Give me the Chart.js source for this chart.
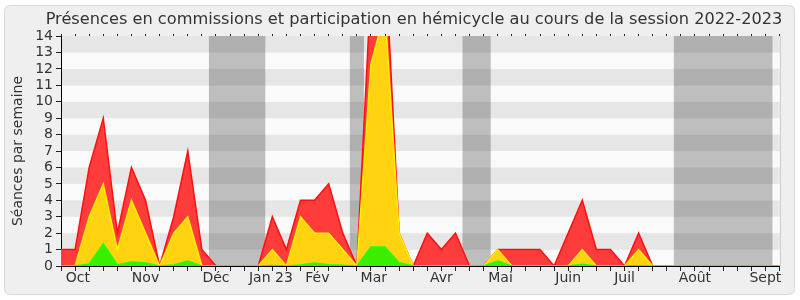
<!DOCTYPE html>
<html><head><meta charset="utf-8">
<script src="https://cdn.jsdelivr.net/npm/chart.js@4/dist/chart.umd.min.js"></script>
<style>html,body{margin:0;padding:0;background:#fff}#wrap{width:800px;height:300px;position:relative}canvas{display:block}</style>
</head><body><div id="wrap"><canvas id="c" width="800" height="300" style="width:800px;height:300px"></canvas></div>
<script>
// weekly positions of the session (week index)
const weeks = [0,1,2,3,4,5,6,7,8,9,10,11,12,13,14,15,16,17,18,19,20,21,22,23,24,25,26,27,28,29,30,31,32,33,34,35,36,37,38,39,40,41,42,43,44,45,46,47,48,49,50,51];
// red: participation en hémicycle (total)
const redValues = [1,1,6,9,2,6,4,0,3,7, 1,0,0,0,0,3,1,4,4,5, 2,0,17,19,2,0,2,1,2,0, 0,1,1,1,1,0,2,4,1,1, 0,2,0,0,0,0,0,0,0,0,0,0];
// yellow
const yellowValues = [0,0,3,5,1,4,2,0,2,3, 0,0,0,0,0,1,0,3,2,2, 1,0,12.3,15.5,2,0,0,0,0,0, 0,1,0,0,0,0,0,1,0,0, 0,1,0,0,0,0,0,0,0,0,0,0];
// green
const greenValues = [0,0,0.12,1.35,0.08,0.25,0.18,0,0.06,0.3, 0,0,0,0,0,0.03,0,0.06,0.18,0.08, 0.04,0,1.15,1.15,0.2,0,0,0,0,0, 0,0.3,0,0,0,0,0,0.1,0,0, 0,0.02,0,0,0,0,0,0,0,0,0,0];
// month labels and their positions (in weeks)
const monthLabels = ['Oct','Nov','Déc','Jan 23','Fév','Mar','Avr','Mai','Juin','Juil','Août','Sept'];
const monthPositions = [1.2,6,11,14.9,18.2,22.2,27,31.2,36,40,45,50];
// vacation periods (in weeks)
const vacStart = [10.5,20.5,28.5,43.5];
const vacEnd = [14.5,21.5,30.5,50.5];
// y ticks
const yTicks = [0,1,2,3,4,5,6,7,8,9,10,11,12,13,14];

const FONT = "'DejaVu Sans', sans-serif";
const TXT = '#333';

const pts = arr => arr.map((v,i)=>({x:weeks[i], y:v}));

const bgPlugin = {
  id:'bg',
  afterLayout(chart){
    // centre the title slightly left of the plot centre, as in the reference
    if (chart.titleBlock){ chart.titleBlock.left = 42; chart.titleBlock.right = 786; }
  },
  beforeDraw(chart){
    const {ctx, chartArea:a, scales} = chart;
    ctx.save();
    ctx.fillStyle='#fff'; ctx.fillRect(0,0,chart.width,chart.height);
    // frame
    const x0=4.5,y0=5.5,x1=794.5,y1=294.5,r=6;
    ctx.beginPath();
    ctx.moveTo(x0+r,y0); ctx.lineTo(x1-r,y0); ctx.quadraticCurveTo(x1,y0,x1,y0+r);
    ctx.lineTo(x1,y1-r); ctx.quadraticCurveTo(x1,y1,x1-r,y1);
    ctx.lineTo(x0+r,y1); ctx.quadraticCurveTo(x0,y1,x0,y1-r);
    ctx.lineTo(x0,y0+r); ctx.quadraticCurveTo(x0,y0,x0+r,y0);
    ctx.closePath();
    ctx.fillStyle='#efefef'; ctx.fill();
    ctx.strokeStyle='#d9d9d9'; ctx.lineWidth=1; ctx.stroke();
    // stripes
    const y = scales.y, x = scales.x;
    for (let k=0;k<yTicks.length-1;k++){
      const t=y.getPixelForValue(yTicks[k+1]), b=y.getPixelForValue(yTicks[k]);
      ctx.fillStyle = (k%2===1) ? '#e6e6e6' : '#fafafa';
      ctx.fillRect(a.left, t, a.right-a.left, b-t);
    }
    // vacations
    ctx.fillStyle='rgba(0,0,0,0.24)';
    for (let k=0;k<vacStart.length;k++){
      const l=x.getPixelForValue(vacStart[k]), rr=x.getPixelForValue(vacEnd[k]);
      ctx.fillRect(l, a.top, rr-l, a.bottom-a.top);
    }
    ctx.restore();
  },
  afterDatasetsDraw(chart){
    const {ctx, chartArea:a} = chart;
    ctx.save();
    ctx.strokeStyle='#cfcfcf'; ctx.lineWidth=1;
    ctx.beginPath(); ctx.moveTo(Math.round(a.right)+0.5,a.top); ctx.lineTo(Math.round(a.right)+0.5,a.bottom); ctx.stroke();
    ctx.restore();
  }
};

const weekTicks = s => { s.ticks = weeks.map(v=>({value:v})); };

new Chart(document.getElementById('c'), {
  type:'line',
  data:{ datasets:[
    {label:'green', data:pts(greenValues), order:1, borderColor:'#22ff00', backgroundColor:'#3aee00', borderWidth:1.5, fill:'origin', pointRadius:0, tension:0},
    {label:'yellow', data:pts(yellowValues), order:2, borderColor:'#ffee00', backgroundColor:'#ffd30f', borderWidth:1.5, fill:'origin', pointRadius:0, tension:0},
    {label:'red', data:pts(redValues), order:3, borderColor:'#ff1010', backgroundColor:'#ff3c3c', borderWidth:1.5, fill:'origin', pointRadius:0, tension:0}
  ]},
  options:{
    responsive:false, animation:false, maintainAspectRatio:false,
    devicePixelRatio:1,
    layout:{padding:{left:0,right:20.5,top:0,bottom:0}},
    plugins:{
      legend:{display:false}, tooltip:{enabled:false},
      title:{display:true, fullSize:false, text:'Présences en commissions et participation en hémicycle au cours de la session 2022-2023',
        color:TXT, font:{family:FONT,size:16.2,weight:'normal',lineHeight:1.2}, padding:{top:10.5,bottom:4.1}}
    },
    scales:{
      x:{type:'linear', position:'bottom', min:0, max:51, z:1, weight:0,
        afterBuildTicks:weekTicks, afterFit:s=>{s.height=5;},
        ticks:{display:false},
        grid:{drawOnChartArea:false, drawTicks:true, tickLength:5, color:'#222'},
        border:{display:true,color:'#000',width:1}},
      xm:{type:'linear', position:'bottom', min:0, max:51, weight:1,
        afterBuildTicks:s=>{ s.ticks = monthPositions.map(v=>({value:v})); },
        afterFit:s=>{s.height=29;},
        ticks:{callback:(v,i)=>monthLabels[i], color:TXT, font:{family:FONT,size:14,lineHeight:1}, padding:0, maxRotation:0, autoSkip:false},
        grid:{display:false, drawTicks:false}, border:{display:false}},
      xt:{type:'linear', position:'top', min:0, max:51, z:1,
        afterBuildTicks:weekTicks, afterFit:s=>{s.height=2;},
        ticks:{display:false},
        grid:{drawOnChartArea:false, drawTicks:true, tickLength:2, color:'#222'},
        border:{display:false}},
      y:{type:'linear', min:0, max:14, z:1,
        afterBuildTicks:s=>{ s.ticks = yTicks.map(v=>({value:v})); },
        afterFit:s=>{s.width=61;},
        ticks:{color:TXT, font:{family:FONT,size:14}, padding:3, autoSkip:false},
        grid:{drawOnChartArea:false, drawTicks:true, tickLength:5, color:'#222'},
        border:{display:true,color:'#000',width:1},
        title:{display:true, text:'Séances par semaine', color:TXT, font:{family:FONT,size:14,lineHeight:1.2}, padding:{top:9.8,bottom:0}}}
    }
  },
  plugins:[bgPlugin]
});
</script></body></html>
